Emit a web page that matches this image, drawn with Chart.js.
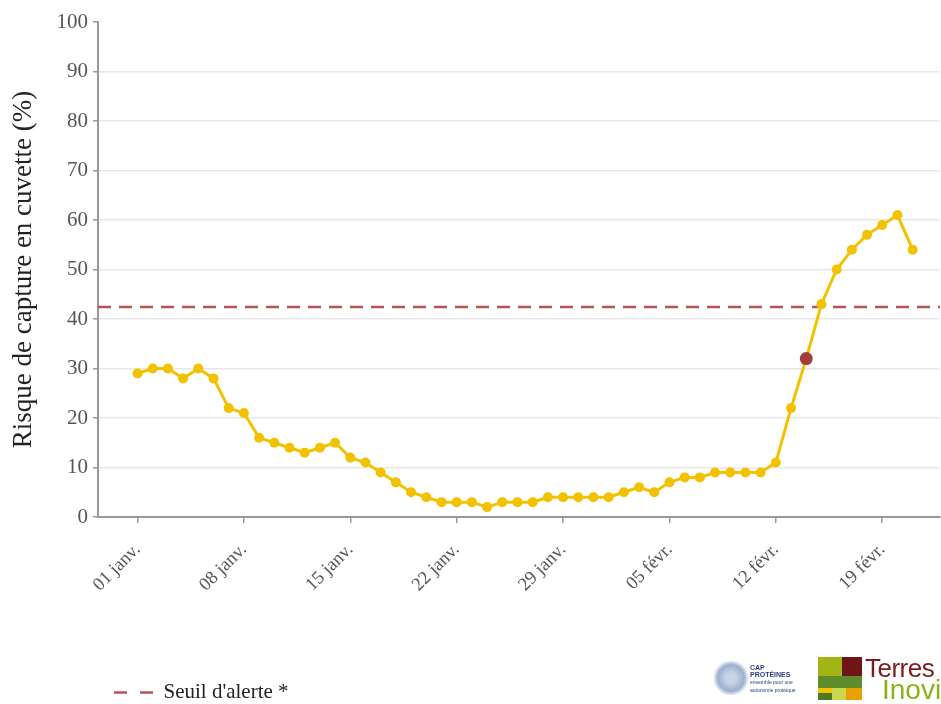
<!DOCTYPE html>
<html>
<head>
<meta charset="utf-8">
<script src="https://cdn.jsdelivr.net/npm/chart.js@4.4.1/dist/chart.umd.min.js"></script>
<style>
  body { margin: 0; background: #fff; }
  #wrap { position: relative; width: 941px; height: 704px; overflow: hidden; }
  #logos { position: absolute; left: 710px; top: 655px; width: 240px; height: 49px; font-family: "Liberation Sans", sans-serif; }
  .sq { position: absolute; }
</style>
</head>
<body>
<div id="wrap">
  <canvas id="myChart" width="945" height="704"></canvas>
  <div id="logos">
    <div style="position:absolute;left:4px;top:6px;width:34px;height:34px;border-radius:40%;background:radial-gradient(circle,#c9d4e6 20%,#9bb0cf 55%,#fff 75%);"></div>
    <div style="position:absolute;left:40px;top:9px;font-size:7px;font-weight:bold;line-height:7px;color:#2b3f7a;">CAP<br>PROTÉINES<br><span style="font-weight:normal;font-size:5px;">ensemble pour une<br>autonomie protéique</span></div>
    <div class="sq" style="left:108px;top:2px;width:24px;height:19px;background:#a2b515;"></div>
    <div class="sq" style="left:132px;top:2px;width:20px;height:19px;background:#6f1517;"></div>
    <div class="sq" style="left:108px;top:21px;width:44px;height:12px;background:#5e8c2b;"></div>
    <div class="sq" style="left:108px;top:33px;width:14px;height:5px;background:#f2c400;"></div>
    <div class="sq" style="left:108px;top:38px;width:14px;height:7px;background:#4f7a23;"></div>
    <div class="sq" style="left:122px;top:33px;width:14px;height:12px;background:#c9d84c;"></div>
    <div class="sq" style="left:136px;top:33px;width:16px;height:12px;background:#ea9f00;"></div>
    <div style="position:absolute;left:155px;top:-2px;font-size:26px;color:#7a1b1d;font-family:'Liberation Sans Narrow','Liberation Sans',sans-serif;letter-spacing:-0.5px;">Terres</div>
    <div style="position:absolute;left:172px;top:19px;font-size:28px;color:#8cb21c;font-family:'Liberation Sans Narrow','Liberation Sans',sans-serif;">Inovia</div>
  </div>
</div>
<script>
const tickLabels = ['01 janv.', '08 janv.', '15 janv.', '22 janv.', '29 janv.', '05 févr.', '12 févr.', '19 févr.']
const risk = [29, 30, 30, 28, 30, 28, 22, 21, 16, 15, 14, 13, 14, 15, 12, 11, 9, 7, 5, 4,
              3, 3, 3, 2, 3, 3, 3, 4, 4, 4, 4, 4, 5, 6, 5, 7, 8, 8, 9, 9,
              9, 9, 11, 22, 32, 43, 50, 54, 57, 59, 61, 54]
const threshold = 42.4
const todayIndex = 44
const ctx = document.getElementById('myChart').getContext('2d')

// x range in days from 01 janv., the chart runs past the right edge of the window
const xMin = -2.6
const xMax = 52.8
const serif = 'Liberation Serif'

const riskPoints = risk.map((v, i) => ({x: i, y: v}))
const thresholdPoints = [{x: xMin, y: threshold}, {x: xMax, y: threshold}]

new Chart(ctx, {
    type: 'line',
    data: {
        datasets: [
            {
                label: 'Risque',
                data: riskPoints,
                borderColor: '#f2c200',
                backgroundColor: '#f2c200',
                borderWidth: 3,
                pointRadius: c => c.dataIndex === todayIndex ? 6.5 : 5,
                pointBackgroundColor: c => c.dataIndex === todayIndex ? '#a43c3c' : '#f2c200',
                pointBorderColor: c => c.dataIndex === todayIndex ? '#a43c3c' : '#f2c200',
                pointBorderWidth: 0,
                tension: 0,
                order: 1
            },
            {
                label: "Seuil d'alerte *",
                data: thresholdPoints,
                borderColor: '#b65452',
                backgroundColor: '#b65452',
                borderWidth: 2.5,
                borderDash: [13, 8],
                pointRadius: 0,
                order: 2
            }
        ]
    },
    options: {
        responsive: false,
        animation: false,
        layout: { padding: { top: 22, left: 0, right: 0, bottom: -9 } },
        plugins: {
            tooltip: { enabled: false },
            legend: {
                position: 'bottom',
                align: 'start',
                fullSize: false,
                labels: {
                    generateLabels: chart => Chart.defaults.plugins.legend.labels.generateLabels(chart).map(item => {
                        const ds = chart.data.datasets[item.datasetIndex]
                        return {...item, lineDash: [13, 13], lineWidth: ds.borderWidth}
                    }),
                    filter: item => item.datasetIndex === 1,
                    usePointStyle: true,
                    pointStyle: 'line',
                    pointStyleWidth: 39,
                    color: '#222',
                    font: { family: serif, size: 21 },
                    padding: 16
                }
            }
        },
        scales: {
            x: {
                type: 'linear',
                min: xMin,
                max: xMax,
                afterBuildTicks: scale => { scale.ticks = tickLabels.map((t, i) => ({value: i * 7})) },
                afterFit: scale => {
                    scale.height = 149
                    scale.paddingRight = 0
                    scale.paddingLeft = 0
                },
                ticks: {
                    callback: value => tickLabels[value / 7],
                    minRotation: 45,
                    maxRotation: 45,
                    color: '#555',
                    font: { family: serif, size: 18.5 },
                    padding: 16
                },
                grid: { drawOnChartArea: false, tickLength: 6, tickColor: '#999', lineWidth: 1.5 },
                border: { color: '#999', width: 2 }
            },
            y: {
                min: 0,
                max: 100,
                afterFit: scale => { scale.width = 98 },
                ticks: {
                    stepSize: 10,
                    color: '#555',
                    font: { family: serif, size: 21 },
                    padding: 5
                },
                grid: {
                    color: c => c.tick && c.tick.value === 100 ? 'rgba(0,0,0,0)' : '#e8e8e8',
                    lineWidth: 1.5,
                    tickLength: 5,
                    tickColor: '#999'
                },
                border: { color: '#999', width: 2 },
                title: {
                    display: true,
                    text: 'Risque de capture en cuvette (%)',
                    color: '#222',
                    font: { family: serif, size: 27 },
                    padding: { top: 8, bottom: 6 }
                }
            }
        }
    }
})
</script>
</body>
</html>
